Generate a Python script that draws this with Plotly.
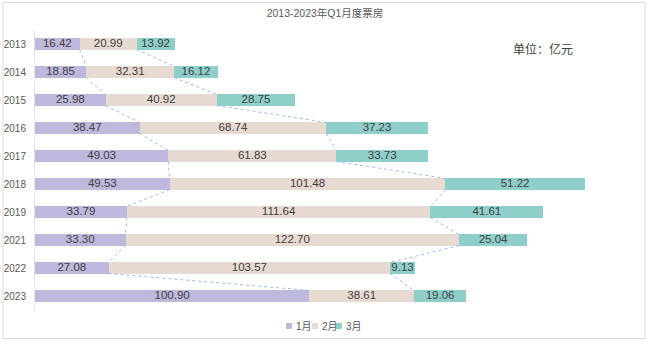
import plotly.graph_objects as go

years = ["2013", "2014", "2015", "2016", "2017", "2018", "2019", "2021", "2022", "2023"]
jan = [16.42, 18.85, 25.98, 38.47, 49.03, 49.53, 33.79, 33.30, 27.08, 100.90]
feb = [20.99, 32.31, 40.92, 68.74, 61.83, 101.48, 111.64, 122.70, 103.57, 38.61]
mar = [13.92, 16.12, 28.75, 37.23, 33.73, 51.22, 41.61, 25.04, 9.13, 19.06]
series_names = ["1月", "2月", "3月"]
colors = ["#BEB8DC", "#E7DAD2", "#8ECFC9"]

W, H = 650, 346
ML, MR, MT, MB = 35, 17, 30, 36
XMAX = 220
BAR_W = 0.4
FONT = "Liberation Sans, Arial, Noto Sans CJK SC"

idx = list(range(len(years)))
all_vals = [jan, feb, mar]
fig = go.Figure()
base = [0.0] * len(years)
for name, vals, col in zip(series_names, all_vals, colors):
    fig.add_trace(go.Bar(
        y=idx, x=vals, name=name, orientation="h", width=BAR_W,
        marker=dict(color=col, line=dict(width=0)),
        showlegend=False, hoverinfo="x+name",
    ))
    mids = [b + v / 2 for b, v in zip(base, vals)]
    fig.add_trace(go.Scatter(
        x=mids, y=idx, mode="text", text=[f"{v:.2f}" for v in vals],
        textposition="middle center", showlegend=False, hoverinfo="skip",
        textfont=dict(size=11.5, color="#404040", family=FONT),
    ))
    base = [b + v for b, v in zip(base, vals)]

# series lines between segment boundaries
cum1 = jan
cum2 = [a + b for a, b in zip(jan, feb)]
for cum in (cum1, cum2):
    xs, ys = [], []
    for i in range(len(years) - 1):
        xs += [cum[i], cum[i + 1], None]
        ys += [i + BAR_W / 2, i + 1 - BAR_W / 2, None]
    fig.add_trace(go.Scatter(
        x=xs, y=ys, mode="lines", showlegend=False, hoverinfo="skip",
        line=dict(color="#9DBBEA", width=1, dash="dot"),
    ))

pw = W - ML - MR
ph = H - MT - MB
def px_x(p):
    return (p - ML) / pw
def px_y(p):
    return (H - MB - p) / ph

# manual compact legend
legend_sq_x = [286, 312, 336]
shapes = [dict(type="rect", xref="paper", yref="paper",
               x0=px_x(3), x1=px_x(645), y0=px_y(2.5), y1=px_y(338.5),
               line=dict(color="#D9D9D9", width=1), fillcolor="rgba(0,0,0,0)", layer="below")]
annotations = [dict(text="单位：亿元", xref="paper", yref="paper", x=px_x(543), y=px_y(48),
                    xanchor="center", yanchor="middle",
                    showarrow=False, font=dict(size=12, color="#404040", family="Noto Sans CJK SC"))]
for sx, name, col in zip(legend_sq_x, series_names, colors):
    shapes.append(dict(type="rect", xref="paper", yref="paper",
                       x0=px_x(sx), x1=px_x(sx + 6), y0=px_y(323), y1=px_y(329),
                       line=dict(width=0), fillcolor=col))
    annotations.append(dict(text=name, xref="paper", yref="paper", x=px_x(sx + 8), y=px_y(326),
                            xanchor="left", yanchor="middle", showarrow=False,
                            font=dict(size=10, color="#595959", family=FONT)))

fig.update_layout(
    width=W, height=H,
    margin=dict(l=ML, r=MR, t=MT, b=MB, autoexpand=False),
    barmode="stack",
    plot_bgcolor="white", paper_bgcolor="white",
    font=dict(family=FONT, color="#595959", size=11),
    title=dict(text="2013-2023年Q1月度票房", x=0.5, xanchor="center", y=1 - 13 / H, yanchor="middle",
               font=dict(size=10.5, color="#595959", family=FONT)),
    xaxis=dict(range=[0, XMAX], visible=False, fixedrange=True),
    yaxis=dict(tickvals=idx, ticktext=years, range=[len(years) - 0.5, -0.5], automargin=False,
               showgrid=False, zeroline=False, showline=True, linecolor="#E6E6E6", linewidth=1,
               ticks="", ticklabelstandoff=6, tickfont=dict(size=10, color="#595959")),
    showlegend=False,
    annotations=annotations,
    shapes=shapes,
)

fig.write_html("out.html")
